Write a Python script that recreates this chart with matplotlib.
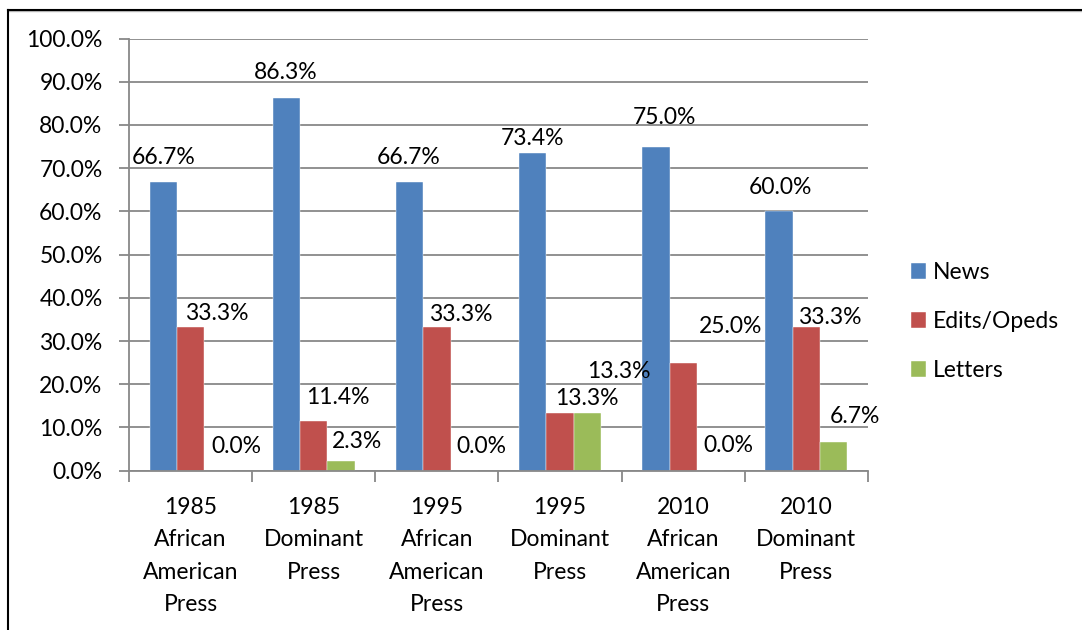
import matplotlib
matplotlib.use("Agg")
import matplotlib.pyplot as plt
from matplotlib.lines import Line2D
from matplotlib.ticker import FuncFormatter
import numpy as np

plt.rcParams['font.family'] = ['Lato', 'DejaVu Sans']

# Data
categories = [
    "1985\nAfrican\nAmerican\nPress",
    "1985\nDominant\nPress",
    "1995\nAfrican\nAmerican\nPress",
    "1995\nDominant\nPress",
    "2010\nAfrican\nAmerican\nPress",
    "2010\nDominant\nPress",
]
series_names = ["News", "Edits/Opeds", "Letters"]
news = [66.7, 86.3, 66.7, 73.4, 75.0, 60.0]
edits = [33.3, 11.4, 33.3, 13.3, 25.0, 33.3]
letters = [0.0, 2.3, 0.0, 13.3, 0.0, 6.7]
series_values = [news, edits, letters]
colors = ["#4F81BD", "#C0504D", "#9BBB59"]

# Hand-placed label offsets (pixels from bar top-centre to label centre)
label_dx = [
    [0, -1, -1, 0, 9, 1],
    [26, 24, 24, 27, 47, 23],
    [18, 16, 17, 31, 18, 21],
]
label_dy = [
    [27, 27, 27, 17, 31, 25],
    [15, 26, 14, 16, 38, 11],
    [26, 21, 26, 43, 27, 27],
]

W, H, DPI = 1082, 630, 100
fig = plt.figure(figsize=(W / DPI, H / DPI), dpi=DPI)
ax = fig.add_axes([129 / W, 1 - 470.7 / H, (868 - 129) / W, (470.7 - 38.5) / H])

FS = 16.5
grid_color = "#888888"
n = len(categories)
x = np.arange(n)
bw = 1 / 4.5
offsets = [-bw, 0, bw]

for vals, c, off, name in zip(series_values, colors, offsets, series_names):
    ax.bar(x + off, vals, width=bw, color=c, label=name,
           edgecolor="white", linewidth=0.3, zorder=3)

# Value labels
for si, (vals, off) in enumerate(zip(series_values, offsets)):
    for ci, v in enumerate(vals):
        ax.annotate(f"{v:.1f}%", xy=(x[ci] + off, v),
                    xytext=(label_dx[si][ci], label_dy[si][ci] - 8.1),
                    textcoords="offset pixels", ha="center", va="baseline",
                    fontsize=FS, color="black", zorder=5)

ax.set_xlim(-0.5, n - 0.5)
ax.set_ylim(0, 100)
ax.set_yticks(np.arange(0, 101, 10))
ax.yaxis.set_major_formatter(FuncFormatter(lambda v, p: f"{v:.1f}%"))
ax.grid(axis="y", color=grid_color, linewidth=1.3, zorder=0)
ax.set_axisbelow(True)

# Category ticks sit on the boundaries between groups
ax.set_xticks(np.arange(-0.5, n, 1.0))
ax.set_xticklabels([])
ax.set_xticks(x, minor=True)
ax.set_xticklabels(categories, minor=True, fontsize=FS, linespacing=1.66)
ax.tick_params(axis="x", which="minor", length=0, pad=19)
ax.tick_params(axis="x", which="major", length=8, width=1.3, color=grid_color)
ax.tick_params(axis="y", length=7, width=1.3, color=grid_color, labelsize=FS, pad=12)

for s in ["top", "right"]:
    ax.spines[s].set_visible(False)
for s in ["left", "bottom"]:
    ax.spines[s].set_color(grid_color)
    ax.spines[s].set_linewidth(1.3)
ax.spines["bottom"].set_zorder(4)

ax.legend(loc="center left", bbox_to_anchor=(911 / W, 1 - 321.5 / H),
          bbox_transform=fig.transFigure, frameon=False, fontsize=FS,
          handlelength=0.66, handleheight=0.66, handletextpad=0.3,
          labelspacing=1.22, borderpad=0, borderaxespad=0)

# Outer frame edges
fig.add_artist(Line2D([7.5 / W, 1.0], [1 - 10.5 / H, 1 - 10.5 / H], color="#BBBBBB",
                      linewidth=1.0, transform=fig.transFigure))
fig.add_artist(Line2D([7.5 / W, 1.0], [1 - 9.5 / H, 1 - 9.5 / H], color="black",
                      linewidth=1.5, transform=fig.transFigure))
fig.add_artist(Line2D([7.5 / W, 7.5 / W], [0, 1 - 9.5 / H], color="black",
                      linewidth=1.5, transform=fig.transFigure))

fig.savefig("out.png", dpi=DPI, facecolor="white")
